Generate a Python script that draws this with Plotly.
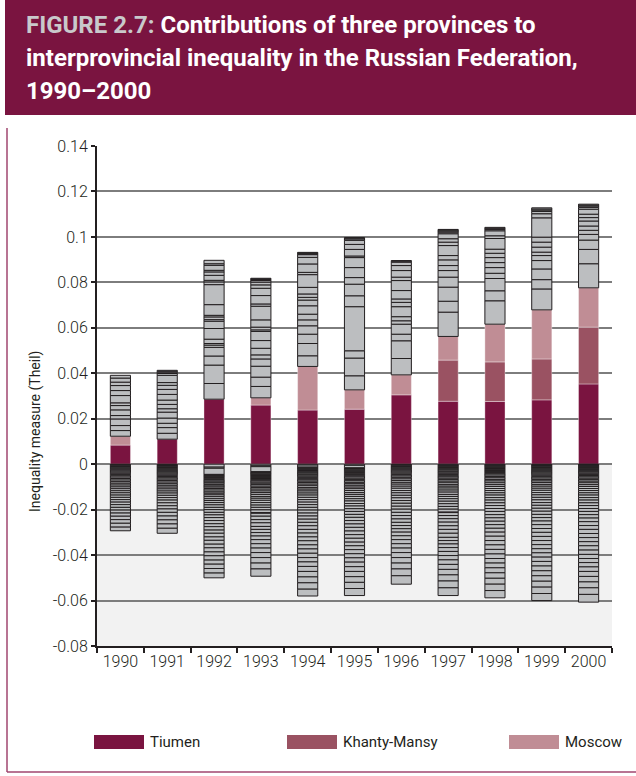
import plotly.graph_objects as go

years = ["1990", "1991", "1992", "1993", "1994", "1995", "1996", "1997", "1998", "1999", "2000"]

# the three named provinces (positive contributions)
tiumen = [0.0084, 0.0110, 0.0286, 0.0260, 0.0238, 0.0242, 0.0305, 0.0277, 0.0276, 0.0283, 0.0353]
khanty_mansy = [0, 0, 0, 0, 0, 0, 0, 0.0181, 0.0174, 0.0180, 0.0250]
moscow = [0.0039, 0, 0, 0.0032, 0.0192, 0.0085, 0.0088, 0.0104, 0.0166, 0.0216, 0.0173]

# other provinces, positive contributions (stacked from bottom up)
pos_1990 = [0.0025, 0.0022, 0.0029, 0.0015, 0.0025, 0.0019, 0.0012, 0.0032, 0.0022, 0.0022, 0.0015, 0.0018, 0.0012]
pos_1991 = [0.0026, 0.0025, 0.0019, 0.0023, 0.0026, 0.0015, 0.0019, 0.0019, 0.0025, 0.0022, 0.0018, 0.0012, 0.0032,
            0.0008, 0.0006, 0.0004, 0.0004]
pos_1992 = [0.0069, 0.0081, 0.0040, 0.0038, 0.0010, 0.0007, 0.0019, 0.0047, 0.0032, 0.0007, 0.0012, 0.0007, 0.0047,
            0.0088, 0.0012, 0.0007, 0.0022, 0.0015, 0.0007, 0.0022, 0.0007, 0.0015]
pos_1993 = [0.0050, 0.0041, 0.0048, 0.0032, 0.0018, 0.0029, 0.0034, 0.0040, 0.0007, 0.0012, 0.0032, 0.0060, 0.0010,
            0.0037, 0.0032, 0.0015, 0.0012, 0.0007, 0.0004, 0.0003, 0.0003]
pos_1994 = [0.0047, 0.0054, 0.0041, 0.0037, 0.0026, 0.0025, 0.0037, 0.0025, 0.0012, 0.0015, 0.0029, 0.0056, 0.0010,
            0.0037, 0.0029, 0.0012, 0.0004, 0.0003, 0.0003]
pos_1995 = [0.0062, 0.0078, 0.0032, 0.0194, 0.0048, 0.0051, 0.0029, 0.0044, 0.0044, 0.0007, 0.0029, 0.0022, 0.0018,
            0.0006, 0.0004, 0.0002]
pos_1996 = [0.0072, 0.0078, 0.0029, 0.0044, 0.0015, 0.0018, 0.0044, 0.0019, 0.0015, 0.0037, 0.0044, 0.0015, 0.0029,
            0.0022, 0.0015, 0.0004, 0.0003]
pos_1997 = [0.0107, 0.0048, 0.0062, 0.0044, 0.0029, 0.0022, 0.0025, 0.0019, 0.0044, 0.0015, 0.0015, 0.0022, 0.0007,
            0.0005, 0.0004, 0.0003]
pos_1998 = [0.0103, 0.0044, 0.0054, 0.0023, 0.0025, 0.0022, 0.0022, 0.0019, 0.0018, 0.0047, 0.0012, 0.0022, 0.0006,
            0.0005, 0.0004]
pos_1999 = [0.0092, 0.0041, 0.0047, 0.0037, 0.0022, 0.0015, 0.0022, 0.0022, 0.0022, 0.0085, 0.0018, 0.0010, 0.0006,
            0.0005, 0.0005]
pos_2000 = [0.0106, 0.0063, 0.0041, 0.0025, 0.0018, 0.0019, 0.0022, 0.0015, 0.0015, 0.0022, 0.0008, 0.0006, 0.0004,
            0.0004]

# other provinces, negative contributions (magnitudes, from zero downwards)
neg_1990 = [0.0002, 0.0002, 0.0003, 0.0003, 0.0003, 0.0004, 0.0004, 0.0004, 0.0005, 0.0005, 0.0005, 0.0005, 0.0006,
            0.0006, 0.0006, 0.0007, 0.0007, 0.0007, 0.0008, 0.0008, 0.0008, 0.0009, 0.0009, 0.0010, 0.0010, 0.0010,
            0.0011, 0.0011, 0.0012, 0.0012, 0.0013, 0.0014, 0.0015, 0.0016, 0.0017, 0.0016]
neg_1991 = [0.0002, 0.0002, 0.0002, 0.0003, 0.0003, 0.0003, 0.0003, 0.0004, 0.0004, 0.0004, 0.0004, 0.0005, 0.0005,
            0.0005, 0.0005, 0.0006, 0.0006, 0.0006, 0.0007, 0.0007, 0.0007, 0.0008, 0.0008, 0.0009, 0.0009, 0.0010,
            0.0010, 0.0011, 0.0012, 0.0013, 0.0014, 0.0015, 0.0016, 0.0017, 0.0018, 0.0019, 0.0022]
neg_1992 = [0.0013, 0.0005, 0.0027, 0.0004, 0.0003, 0.0003, 0.0004, 0.0005, 0.0004, 0.0006, 0.0005, 0.0004, 0.0006,
            0.0007, 0.0005, 0.0006, 0.0007, 0.0008, 0.0006, 0.0007, 0.0008, 0.0009, 0.0008, 0.0009, 0.0010, 0.0011,
            0.0010, 0.0012, 0.0011, 0.0012, 0.0013, 0.0014, 0.0013, 0.0015, 0.0014, 0.0016, 0.0015, 0.0017, 0.0016,
            0.0018, 0.0017, 0.0019, 0.0018, 0.0019, 0.0020, 0.0021]
neg_1993 = [0.0007, 0.0004, 0.0022, 0.0003, 0.0003, 0.0004, 0.0003, 0.0004, 0.0004, 0.0005, 0.0004, 0.0005, 0.0005,
            0.0006, 0.0005, 0.0006, 0.0007, 0.0006, 0.0007, 0.0008, 0.0007, 0.0008, 0.0009, 0.0008, 0.0009, 0.0010,
            0.0011, 0.0010, 0.0011, 0.0012, 0.0003, 0.0013, 0.0015, 0.0014, 0.0016, 0.0013, 0.0014, 0.0015, 0.0016,
            0.0018, 0.0019, 0.0020, 0.0022, 0.0024, 0.0026, 0.0032]
neg_1994 = [0.0004, 0.0009, 0.0003, 0.0002, 0.0003, 0.0003, 0.0004, 0.0003, 0.0004, 0.0004, 0.0005, 0.0004, 0.0005,
            0.0005, 0.0006, 0.0005, 0.0006, 0.0006, 0.0007, 0.0007, 0.0008, 0.0007, 0.0008, 0.0009, 0.0009, 0.0010,
            0.0010, 0.0011, 0.0011, 0.0012, 0.0012, 0.0013, 0.0013, 0.0014, 0.0014, 0.0015, 0.0016, 0.0016, 0.0017,
            0.0017, 0.0018, 0.0018, 0.0019, 0.0019, 0.0019, 0.0020, 0.0022, 0.0024, 0.0026, 0.0028, 0.0030]
neg_1995 = [0.0005, 0.0011, 0.0003, 0.0003, 0.0004, 0.0003, 0.0004, 0.0004, 0.0005, 0.0004, 0.0005, 0.0005, 0.0006,
            0.0006, 0.0005, 0.0007, 0.0006, 0.0007, 0.0008, 0.0007, 0.0008, 0.0009, 0.0008, 0.0009, 0.0010, 0.0010,
            0.0011, 0.0011, 0.0012, 0.0012, 0.0013, 0.0013, 0.0014, 0.0015, 0.0015, 0.0016, 0.0016, 0.0016, 0.0017,
            0.0016, 0.0017, 0.0018, 0.0018, 0.0019, 0.0020, 0.0021, 0.0023, 0.0025, 0.0027, 0.0031]
neg_1996 = [0.0002, 0.0002, 0.0003, 0.0003, 0.0003, 0.0004, 0.0004, 0.0004, 0.0005, 0.0005, 0.0005, 0.0006, 0.0006,
            0.0006, 0.0007, 0.0007, 0.0008, 0.0008, 0.0009, 0.0009, 0.0010, 0.0010, 0.0011, 0.0011, 0.0012, 0.0012,
            0.0013, 0.0013, 0.0014, 0.0014, 0.0015, 0.0015, 0.0014, 0.0014, 0.0015, 0.0016, 0.0017, 0.0018, 0.0019,
            0.0020, 0.0022, 0.0024, 0.0026, 0.0030, 0.0037]
neg_1997 = [0.0003, 0.0002, 0.0003, 0.0003, 0.0004, 0.0003, 0.0004, 0.0004, 0.0005, 0.0004, 0.0005, 0.0005, 0.0006,
            0.0005, 0.0006, 0.0006, 0.0007, 0.0007, 0.0008, 0.0007, 0.0008, 0.0009, 0.0009, 0.0010, 0.0009, 0.0010,
            0.0011, 0.0011, 0.0012, 0.0012, 0.0013, 0.0002, 0.0013, 0.0014, 0.0015, 0.0016, 0.0016, 0.0017, 0.0018,
            0.0014, 0.0015, 0.0016, 0.0017, 0.0018, 0.0019, 0.0020, 0.0022, 0.0024, 0.0027, 0.0030, 0.0034]
neg_1998 = [0.0002, 0.0003, 0.0003, 0.0003, 0.0004, 0.0004, 0.0004, 0.0005, 0.0004, 0.0005, 0.0005, 0.0006, 0.0006,
            0.0006, 0.0007, 0.0007, 0.0008, 0.0008, 0.0008, 0.0009, 0.0009, 0.0010, 0.0010, 0.0011, 0.0011, 0.0012,
            0.0012, 0.0013, 0.0013, 0.0014, 0.0014, 0.0015, 0.0015, 0.0016, 0.0017, 0.0018, 0.0019, 0.0019, 0.0020,
            0.0020, 0.0020, 0.0020, 0.0021, 0.0022, 0.0024, 0.0026, 0.0028, 0.0032]
neg_1999 = [0.0002, 0.0002, 0.0002, 0.0003, 0.0003, 0.0003, 0.0003, 0.0004, 0.0004, 0.0004, 0.0004, 0.0005, 0.0005,
            0.0005, 0.0006, 0.0006, 0.0006, 0.0007, 0.0007, 0.0008, 0.0008, 0.0009, 0.0009, 0.0010, 0.0010, 0.0011,
            0.0011, 0.0012, 0.0012, 0.0013, 0.0013, 0.0014, 0.0014, 0.0015, 0.0016, 0.0017, 0.0017, 0.0018, 0.0018,
            0.0018, 0.0018, 0.0018, 0.0019, 0.0019, 0.0020, 0.0021, 0.0022, 0.0024, 0.0026, 0.0028, 0.0031]
neg_2000 = [0.0001, 0.0001, 0.0002, 0.0001, 0.0002, 0.0002, 0.0002, 0.0003, 0.0003, 0.0003, 0.0003, 0.0004, 0.0004,
            0.0004, 0.0005, 0.0005, 0.0005, 0.0006, 0.0006, 0.0006, 0.0007, 0.0007, 0.0008, 0.0008, 0.0009, 0.0009,
            0.0010, 0.0010, 0.0011, 0.0011, 0.0012, 0.0012, 0.0013, 0.0013, 0.0014, 0.0015, 0.0016, 0.0017, 0.0017,
            0.0018, 0.0018, 0.0018, 0.0018, 0.0019, 0.0019, 0.0018, 0.0018, 0.0019, 0.0020, 0.0022, 0.0024, 0.0026,
            0.0029, 0.0034]

y_ticks = [0.14, 0.12, 0.1, 0.08, 0.06, 0.04, 0.02, 0, -0.02, -0.04, -0.06, -0.08]
y_tick_text = ["0.14", "0.12", "0.1", "0.08", "0.06", "0.04", "0.02", "0", "-0.02", "-0.04", "-0.06", "-0.08"]

pos_lists = [pos_1990, pos_1991, pos_1992, pos_1993, pos_1994, pos_1995, pos_1996, pos_1997, pos_1998, pos_1999, pos_2000]
neg_lists = [neg_1990, neg_1991, neg_1992, neg_1993, neg_1994, neg_1995, neg_1996, neg_1997, neg_1998, neg_1999, neg_2000]

MAROON = "#7a1440"
KM_COL = "#9a5262"
MOS_COL = "#c08d95"
GRAY = "#bcbec0"
INK = "#231f20"
BAR_W = 0.43
FONT_C = "Liberation Sans Narrow, Roboto, sans-serif"

# plot area in pixels, used to place the decorations
L, R, T, B = 97, 612, 146, 646


def px(x):
    return (x - L) / (R - L)


def py(y):
    return (B - y) / (B - T)


fig = go.Figure()

for name, vals, col in [("Tiumen", tiumen, MAROON), ("Khanty-Mansy", khanty_mansy, KM_COL), ("Moscow", moscow, MOS_COL)]:
    fig.add_trace(go.Bar(
        x=years, y=[v if v else None for v in vals], name=name, width=BAR_W,
        marker=dict(color=col, line=dict(color="rgba(255,255,255,0.6)", width=0.6)),
        showlegend=False,
    ))

n_pos = max(len(p) for p in pos_lists)
for k in range(n_pos):
    fig.add_trace(go.Bar(
        x=years, y=[p[k] if k < len(p) else None for p in pos_lists], width=BAR_W,
        marker=dict(color=GRAY, line=dict(color=INK, width=1)), showlegend=False,
    ))

n_neg = max(len(n) for n in neg_lists)
for k in range(n_neg):
    fig.add_trace(go.Bar(
        x=years, y=[-n[k] if k < len(n) else None for n in neg_lists], width=BAR_W,
        marker=dict(color=GRAY, line=dict(color=INK, width=1)), showlegend=False,
    ))

shapes = [
    # grey background below zero
    dict(type="rect", xref="paper", yref="y", x0=0, x1=1, y0=-0.08, y1=0,
         fillcolor="#f2f2f2", line=dict(width=0), layer="below"),
    # title banner
    dict(type="rect", xref="paper", yref="paper", x0=px(5), x1=px(640), y0=py(115), y1=py(-5),
         fillcolor=MAROON, line=dict(width=0)),
    # frame lines
    dict(type="line", xref="paper", yref="paper", x0=px(7), x1=px(7), y0=py(128), y1=py(772),
         line=dict(color="#a0466f", width=1.5)),
    dict(type="line", xref="paper", yref="paper", x0=px(7), x1=px(636), y0=py(772), y1=py(772),
         line=dict(color="#a0466f", width=1.5)),
]

annotations = []
title_lines = [
    "<span style='color:#c9c9cb'>FIGURE 2.7:</span> Contributions of three provinces to",
    "interprovincial inequality in the Russian Federation,",
    "1990–2000",
]
for i, line in enumerate(title_lines):
    annotations.append(dict(
        text="<b>" + line + "</b>", xref="paper", yref="paper", x=px(24), y=py(25 + 33 * i),
        xanchor="left", yanchor="middle", showarrow=False,
        font=dict(family=FONT_C, size=24, color="white"),
    ))

annotations.append(dict(
    text="Inequality measure (Theil)", textangle=-90, xref="paper", yref="paper",
    x=px(35), y=py(432), xanchor="center", yanchor="middle", showarrow=False,
    font=dict(family=FONT_C, size=14, color=INK),
))

legend_items = [("Tiumen", MAROON, 94), ("Khanty-Mansy", KM_COL, 287), ("Moscow", MOS_COL, 509)]
for name, col, x0 in legend_items:
    shapes.append(dict(type="rect", xref="paper", yref="paper", x0=px(x0), x1=px(x0 + 50),
                       y0=py(749), y1=py(735), fillcolor=col, line=dict(width=0)))
    annotations.append(dict(
        text=name, xref="paper", yref="paper", x=px(x0 + 54), y=py(742),
        xanchor="left", yanchor="middle", showarrow=False,
        font=dict(family=FONT_C, size=15, color=INK),
    ))

fig.update_layout(
    barmode="relative",
    width=636,
    height=776,
    margin=dict(l=L, r=636 - R, t=T, b=776 - B, pad=0),
    paper_bgcolor="white",
    plot_bgcolor="white",
    shapes=shapes,
    annotations=annotations,
    showlegend=False,
)
fig.update_xaxes(
    type="category", tickson="boundaries", ticks="outside", ticklen=5, tickwidth=2, tickcolor=INK,
    showline=True, linecolor=INK, linewidth=2, showgrid=False,
    tickfont=dict(family="Roboto, sans-serif", size=16, color=INK, weight=300),
)
fig.update_yaxes(
    range=[-0.08, 0.14], tickvals=y_ticks, ticktext=y_tick_text, ticks="outside", ticklen=4, tickwidth=1.5,
    tickcolor=INK, showline=True, linecolor=INK, linewidth=2,
    showgrid=True, gridcolor="#7d7d7d", gridwidth=1.5, zeroline=True, zerolinecolor="#7d7d7d", zerolinewidth=1.5,
    tickfont=dict(family="Roboto, sans-serif", size=16, color=INK, weight=300),
)

# drop the browser's default page margin so the figure sits at the window's corner
fig.write_html("out.html", config={"displayModeBar": False},
               post_script="document.body.style.margin='0px';")
